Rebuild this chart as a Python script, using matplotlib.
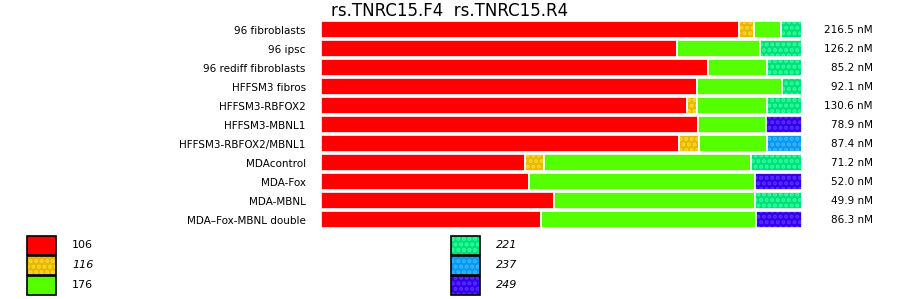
import numpy as np
import matplotlib
matplotlib.use("Agg")
import matplotlib.pyplot as plt
from matplotlib.patches import Rectangle

# Samples (top to bottom)
categories = ["96 fibroblasts", "96 ipsc", "96 rediff fibroblasts", "HFFSM3 fibros",
              "HFFSM3-RBFOX2", "HFFSM3-MBNL1", "HFFSM3-RBFOX2/MBNL1", "MDAcontrol",
              "MDA-Fox", "MDA-MBNL", "MDA\u2013Fox-MBNL double"]
concentrations = ["216.5 nM", "126.2 nM", "85.2 nM", "92.1 nM", "130.6 nM", "78.9 nM",
                  "87.4 nM", "71.2 nM", "52.0 nM", "49.9 nM", "86.3 nM"]

# fragment sizes (legend) and fraction of each sample (%)
sizes = ["106", "116", "176", "221", "237", "249"]
v106 = [86.9, 74.0, 80.5, 78.2, 76.1, 78.4, 74.4, 42.4, 43.2, 48.4, 45.7]
v116 = [3.3, 0.0, 0.0, 0.0, 2.1, 0.0, 4.2, 4.0, 0.0, 0.0, 0.0]
v176 = [5.6, 17.3, 12.3, 17.7, 14.6, 14.3, 14.3, 43.0, 47.2, 42.0, 44.9]
v221 = [4.2, 8.7, 7.3, 4.2, 7.3, 0.0, 0.0, 10.6, 0.0, 9.6, 0.0]
v237 = [0.0, 0.0, 0.0, 0.0, 0.0, 0.0, 7.1, 0.0, 0.0, 0.0, 0.0]
v249 = [0.0, 0.0, 0.0, 0.0, 0.0, 7.3, 0.0, 0.0, 9.6, 0.0, 9.4]
series = [v106, v116, v176, v221, v237, v249]

colors = ["#ff0000", "#e6b800", "#55ff00", "#00e07a", "#0a99ee", "#3300ee"]
dots = [None, "#ffd633", None, "#33ff9a", "#3ab8ff", "#5a33ff"]
italic = [False, True, False, True, True, True]

plt.rcParams['hatch.linewidth'] = 2.0

fig = plt.figure(figsize=(9, 2.99), dpi=100)
ax = fig.add_axes([0.3567, 0.234, 0.5344, 0.699])

y = np.arange(len(categories))
left = np.zeros(len(categories))
for vals, c, d in zip(series, colors, dots):
    vals = np.array(vals)
    if d is None:
        ax.barh(y, vals, left=left, height=0.9, color=c, linewidth=0)
    else:
        ax.barh(y, vals, left=left, height=0.9, color=c, edgecolor=d,
                hatch="...", linewidth=0)
    # white separators
    ax.barh(y, vals, left=left, height=0.9, facecolor="none",
            edgecolor="white", linewidth=1.2)
    left += vals

ax.set_xlim(0, left.max())
ax.set_ylim(len(categories) - 0.5, -0.5)
ax.set_yticks(y)
ax.set_yticklabels(categories, fontsize=7.5)
ax.tick_params(axis="y", length=0, pad=11)
ax.set_xticks([])
for s in ax.spines.values():
    s.set_visible(False)

for i, t in enumerate(concentrations):
    ax.text(1.1476, i, t, transform=ax.get_yaxis_transform(), ha="right",
            va="center", fontsize=7.5)

fig.text(0.5, 0.963, "rs.TNRC15.F4  rs.TNRC15.R4", ha="center", va="center",
         fontsize=12)

# legend
lax = fig.add_axes([0, 0, 1, 1])
lax.set_xlim(0, 900)
lax.set_ylim(299, 0)
lax.axis("off")
for k, (lab, c, d, it) in enumerate(zip(sizes, colors, dots, italic)):
    col, row = divmod(k, 3)
    x0 = 27 + col * 424
    y0 = 235.5 + row * 20
    if d is None:
        r = Rectangle((x0, y0), 29, 19, facecolor=c, edgecolor="black", linewidth=1.2)
        lax.add_patch(r)
    else:
        lax.add_patch(Rectangle((x0, y0), 29, 19, facecolor=c, edgecolor=d,
                                hatch="...", linewidth=0))
        lax.add_patch(Rectangle((x0, y0), 29, 19, facecolor="none",
                                edgecolor="black", linewidth=1.2))
    lax.text(x0 + 45, y0 + 10, lab, fontsize=8, va="center", ha="left",
             style="italic" if it else "normal")

fig.savefig("out.png", dpi=100)
